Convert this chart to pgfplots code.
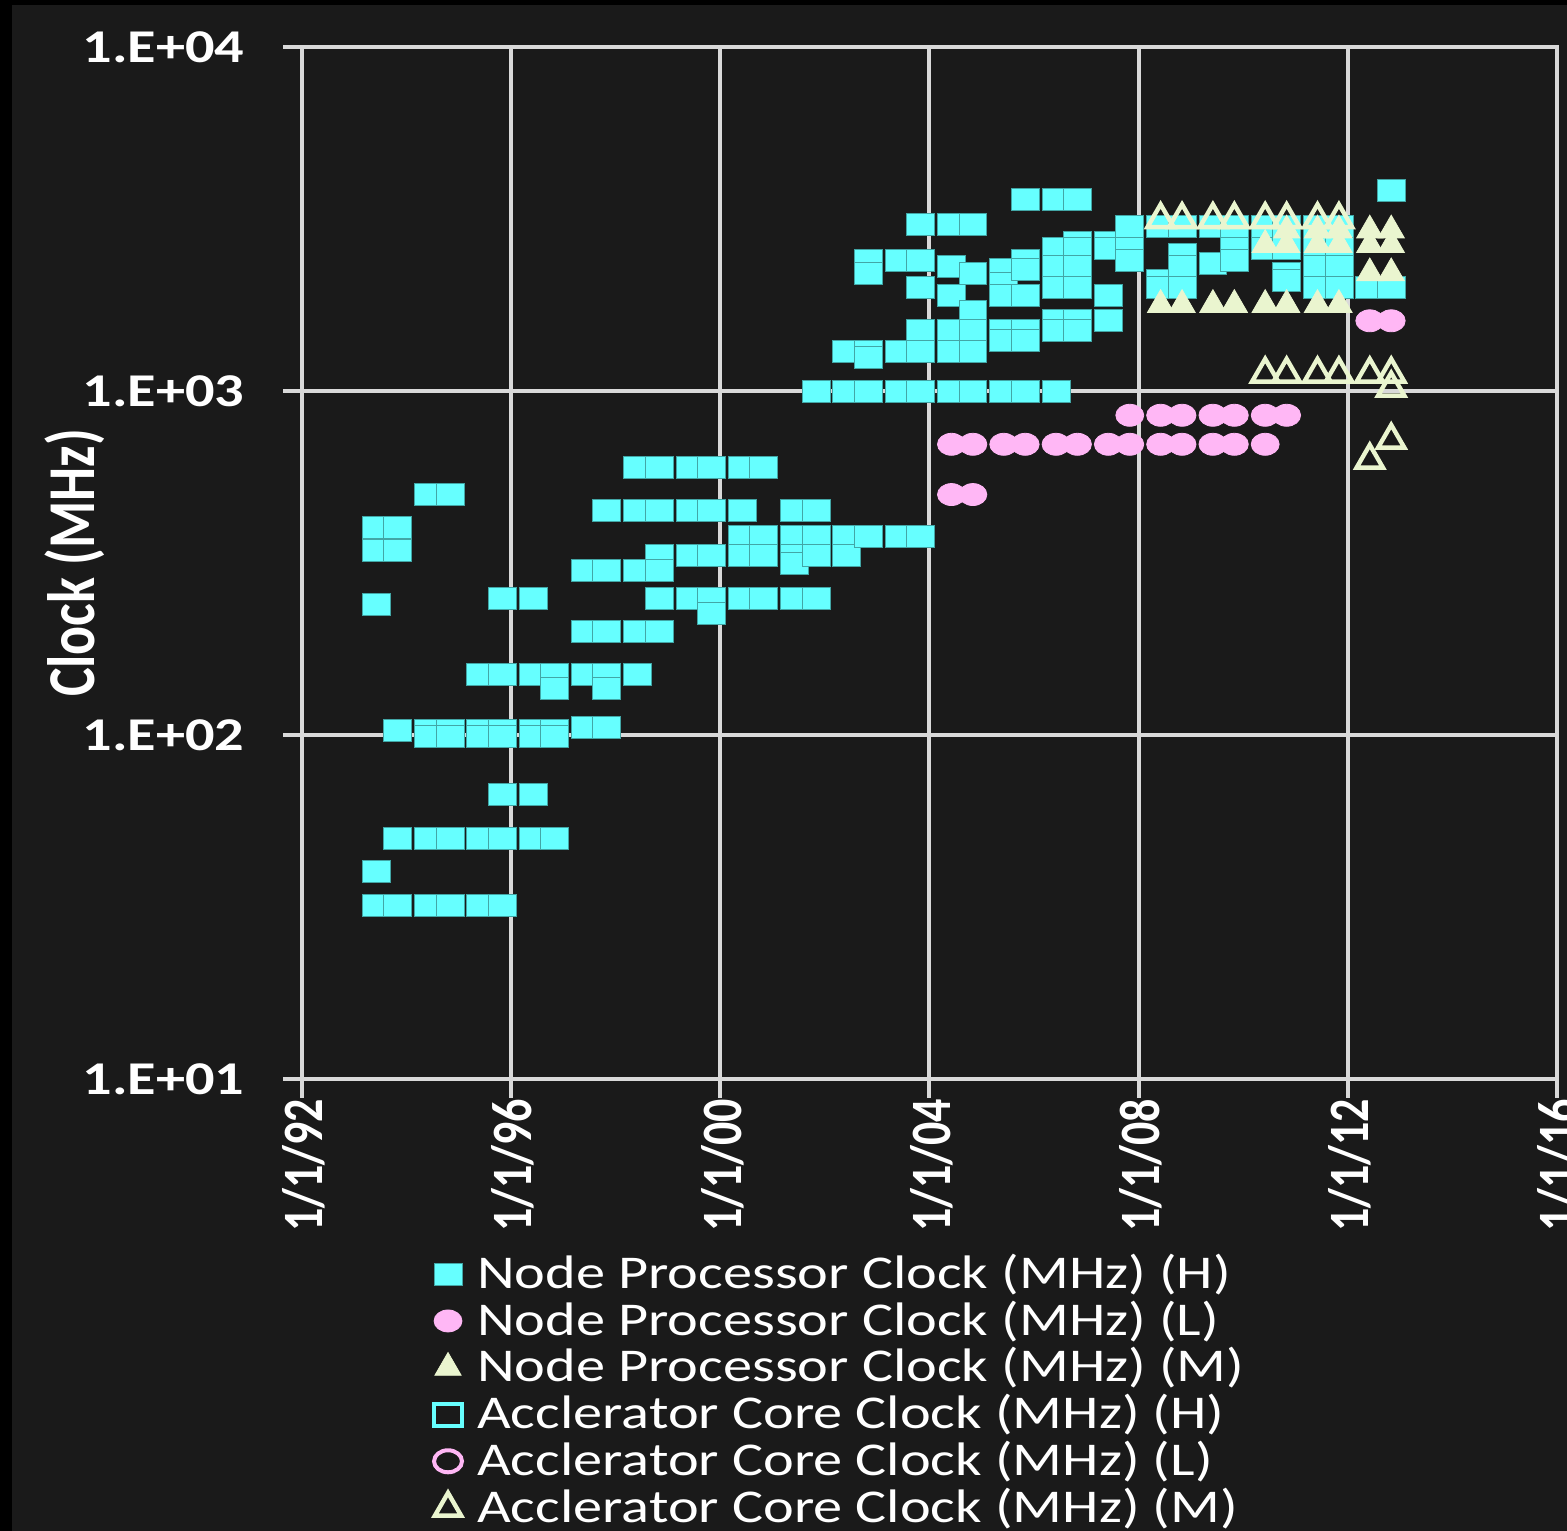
\documentclass[border=0pt]{standalone}
\usepackage{fontspec}
\setmainfont{Carlito}
\newfontfamily\widefont[FakeStretch=1.24]{Carlito}
\usepackage{graphicx}
\usepackage{pgfplots}
\pgfplotsset{compat=1.18}

\definecolor{bgcol}{HTML}{1A1A1A}
\definecolor{gridcol}{HTML}{D9D9D9}
\definecolor{nodeH}{HTML}{66FFFF}
\definecolor{nodeL}{HTML}{FFB7F5}
\definecolor{nodeM}{HTML}{EAF5CF}

\newcommand{\tall}[1]{\scalebox{1}[1.24]{#1}}

\begin{document}
\begin{tikzpicture}
% page and panel background
\fill[black] (-75.5pt,-113pt) rectangle (316.25pt,269.75pt);
\fill[bgcol] (-72.5pt,-113pt) rectangle (316.25pt,268.5pt);
\path[use as bounding box] (-75.5pt,-113pt) rectangle (316.25pt,269.75pt);

\begin{axis}[
  scale only axis,
  width=313.75pt, height=258pt,
  at={(0,0)}, anchor=south west,
  xmin=1992, xmax=2016,
  ymode=log, ymin=10, ymax=10000,
  xtick={1992,1996,2000,2004,2008,2012,2016},
  xticklabels={\tall{1/1/92},\tall{1/1/96},\tall{1/1/00},\tall{1/1/04},\tall{1/1/08},\tall{1/1/12},\tall{1/1/16}},
  ytick={10,100,1000,10000},
  yticklabels={1.E+01,1.E+02,1.E+03,1.E+04},
  yminorticks=false,
  grid=major,
  major grid style={gridcol, line width=1pt},
  axis line style={gridcol, line width=1pt},
  tick style={gridcol, line width=1pt},
  tick align=outside, tick pos=left,
  major tick length=4.75pt,
  yticklabel style={white, anchor=east, inner sep=0pt, xshift=-9.5pt,
    font=\widefont\bfseries\fontsize{11.75}{12}\selectfont},
  xticklabel style={white, rotate=90, anchor=east, inner sep=0pt, yshift=-0.5pt,
    font=\bfseries\fontsize{11.5}{12}\selectfont},
  ylabel={\tall{Clock (MHz)}},
  ylabel style={white, at={(axis description cs:-0.1809,0.5)}, anchor=center, rotate=0,
    font=\bfseries\fontsize{13.5}{14}\selectfont},
  legend image code/.code={%
    \draw[#1] plot coordinates {(3.6pt,0pt)};
    \path (0pt,0pt) (10.4pt,0pt);},
  legend style={draw=none, fill=none, text=white,
    at={(axis description cs:0.1036,-0.1657)}, anchor=north west,
    font=\widefont\fontsize{11.75}{12}\selectfont,
    row sep=0pt, inner sep=0pt, nodes={inner xsep=0.3pt, inner ysep=0.8pt}},
  legend cell align=left,
]

% Node processor clock, H
\addplot[only marks, mark=square*, mark size=2.75pt,
  mark options={fill=nodeH, draw=nodeH!65!black, line width=0.2pt, xscale=1.27}]
coordinates {
(1993.42,400)(1993.42,345)(1993.42,240)(1993.42,40)(1993.42,32)
(1993.83,400)(1993.83,345)(1993.83,103)(1993.83,50)(1993.83,32)
(1994.42,500)(1994.42,103)(1994.42,99)(1994.42,50)(1994.42,32)
(1994.83,500)(1994.83,103)(1994.83,99)(1994.83,50)(1994.83,32)
(1995.42,150)(1995.42,103)(1995.42,99)(1995.42,50)(1995.42,32)
(1995.83,250)(1995.83,150)(1995.83,103)(1995.83,99)(1995.83,67)(1995.83,50)(1995.83,32)
(1996.42,250)(1996.42,150)(1996.42,103)(1996.42,99)(1996.42,67)(1996.42,50)
(1996.83,150)(1996.83,137)(1996.83,103)(1996.83,99)(1996.83,50)
(1997.42,300)(1997.42,200)(1997.42,150)(1997.42,105)
(1997.83,450)(1997.83,300)(1997.83,200)(1997.83,150)(1997.83,137)(1997.83,105)
(1998.42,600)(1998.42,450)(1998.42,300)(1998.42,200)(1998.42,150)
(1998.83,600)(1998.83,450)(1998.83,333)(1998.83,300)(1998.83,250)(1998.83,200)
(1999.42,600)(1999.42,450)(1999.42,333)(1999.42,250)
(1999.83,600)(1999.83,450)(1999.83,333)(1999.83,250)(1999.83,225)
(2000.42,600)(2000.42,450)(2000.42,378)(2000.42,333)(2000.42,250)
(2000.83,600)(2000.83,378)(2000.83,333)(2000.83,250)
(2001.42,450)(2001.42,378)(2001.42,333)(2001.42,315)(2001.42,250)
(2001.83,1000)(2001.83,450)(2001.83,378)(2001.83,333)(2001.83,250)
(2002.42,1300)(2002.42,1000)(2002.42,378)(2002.42,333)
(2002.83,2400)(2002.83,2200)(2002.83,1300)(2002.83,1250)(2002.83,1000)(2002.83,378)
(2003.42,2400)(2003.42,1300)(2003.42,1000)(2003.42,378)
(2003.83,3060)(2003.83,2400)(2003.83,2000)(2003.83,1500)(2003.83,1300)(2003.83,1000)(2003.83,378)
(2004.42,3060)(2004.42,2300)(2004.42,1900)(2004.42,1500)(2004.42,1300)(2004.42,1000)
(2004.83,3060)(2004.83,2200)(2004.83,1700)(2004.83,1500)(2004.83,1300)(2004.83,1000)
(2005.42,2250)(2005.42,2050)(2005.42,1900)(2005.42,1500)(2005.42,1400)(2005.42,1000)
(2005.83,3600)(2005.83,2400)(2005.83,2250)(2005.83,1900)(2005.83,1500)(2005.83,1400)(2005.83,1000)
(2006.42,3600)(2006.42,2600)(2006.42,2300)(2006.42,2000)(2006.42,1600)(2006.42,1500)(2006.42,1000)
(2006.83,3600)(2006.83,2700)(2006.83,2600)(2006.83,2300)(2006.83,2000)(2006.83,1600)(2006.83,1500)
(2007.42,2700)(2007.42,2600)(2007.42,1900)(2007.42,1600)
(2007.83,3000)(2007.83,2600)(2007.83,2400)
(2008.42,3000)(2008.42,2100)(2008.42,2000)
(2008.83,3000)(2008.83,2500)(2008.83,2300)(2008.83,2000)
(2009.42,3000)(2009.42,2350)
(2009.83,3000)(2009.83,2800)(2009.83,2600)(2009.83,2400)
(2010.42,3000)(2010.42,2800)(2010.42,2600)
(2010.83,3000)(2010.83,2600)(2010.83,2200)(2010.83,2100)
(2011.42,3000)(2011.42,2600)(2011.42,2300)(2011.42,2000)
(2011.83,3000)(2011.83,2600)(2011.83,2300)(2011.83,2000)
(2012.42,2000)
(2012.83,3840)(2012.83,2000)
};
\addlegendentry{Node Processor Clock (MHz) (H)}

% Node processor clock, L
\addplot[only marks, mark=*, mark size=2.75pt,
  mark options={fill=nodeL, draw=nodeL, line width=0.2pt, xscale=1.27}]
coordinates {
(2004.42,700)(2004.42,500)(2004.83,700)(2004.83,500)
(2005.42,700)(2005.83,700)(2006.42,700)(2006.83,700)(2007.42,700)
(2007.83,700)(2007.83,850)(2008.42,700)(2008.42,850)(2008.83,700)(2008.83,850)
(2009.42,700)(2009.42,850)(2009.83,700)(2009.83,850)(2010.42,700)(2010.42,850)
(2010.83,850)
(2012.42,1600)(2012.83,1600)
};
\addlegendentry{Node Processor Clock (MHz) (L)}

% Node processor clock, M
\addplot[only marks, mark=triangle*, mark size=3.8pt,
  mark options={fill=nodeM, draw=nodeM, line width=0.2pt}]
coordinates {
(2008.42,1780)(2008.83,1780)(2009.42,1780)(2009.83,1780)
(2010.42,1780)(2010.83,1780)(2011.42,1780)(2011.83,1780)
(2010.42,2660)(2010.83,2660)(2011.42,2660)(2011.83,2660)(2012.42,2660)(2012.83,2660)
(2010.83,2930)(2011.42,2930)(2011.83,2930)(2012.42,2930)(2012.83,2930)
(2012.42,2200)(2012.83,2200)
};
\addlegendentry{Node Processor Clock (MHz) (M)}

\addlegendimage{only marks, mark=square, mark size=2.75pt,
  mark options={draw=nodeH, line width=1pt, xscale=1.27}}
\addlegendentry{Acclerator Core Clock (MHz) (H)}
\addlegendimage{only marks, mark=o, mark size=2.75pt,
  mark options={draw=nodeL, line width=1pt, xscale=1.27}}
\addlegendentry{Acclerator Core Clock (MHz) (L)}

% Accelerator core clock, M
\addplot[only marks, mark=triangle, mark size=3.8pt,
  mark options={draw=nodeM, line width=1.1pt}]
coordinates {
(2008.42,3150)(2008.83,3150)(2009.42,3150)(2009.83,3150)
(2010.42,3150)(2010.83,3150)(2011.42,3150)(2011.83,3150)
(2010.42,1120)(2010.83,1120)(2011.42,1120)(2011.83,1120)(2012.42,1120)(2012.83,1120)
(2012.83,1020)
(2012.42,630)(2012.83,720)
};
\addlegendentry{Acclerator Core Clock (MHz) (M)}
\end{axis}
\end{tikzpicture}
\end{document}
